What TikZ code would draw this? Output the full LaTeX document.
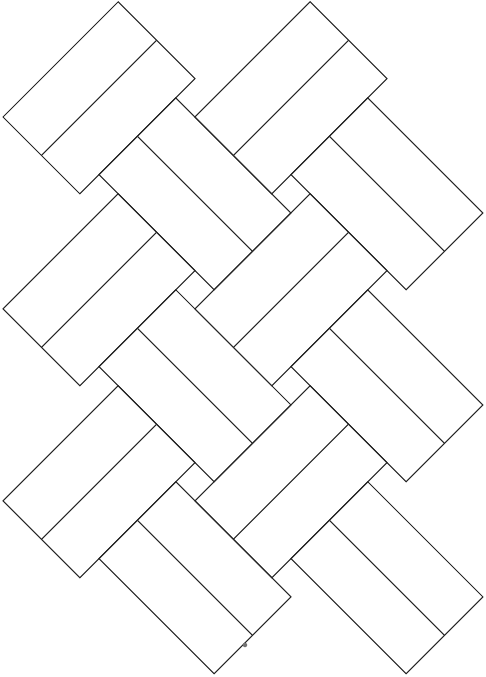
\documentclass[tikz,border=0pt]{standalone}
\usepackage{tikz}

\begin{document}
\begin{tikzpicture}

      % Define board parameters
      \def\s{1.086}
      \def\ox{0.06}
      \def\oy{-2.34}

      \useasboundingbox (0,0) rectangle (9.7,-13.54);

      % Draw the boards (two planks per board)
      \begin{scope}[shift={(\ox,\oy)}, rotate=-45, scale=\s, line width=0.6pt, black!85]
        \foreach \i in {0,1} {
          \foreach \j in {0,1,2} {
            \pgfmathsetmacro\bq{2.5*(\i+\j)}
            \pgfmathsetmacro\bp{2.5*(\i-\j)}
            % rising board
            \draw (\bq,\bp) rectangle (\bq+2,\bp+3);
            \draw (\bq+1,\bp) -- (\bq+1,\bp+3);
            % falling board
            \draw (\bq+2,\bp+0.5) rectangle (\bq+5,\bp+2.5);
            \draw (\bq+2,\bp+1.5) -- (\bq+5,\bp+1.5);
          }
        }
      \end{scope}

      \fill[black!55] (4.9,-12.9) circle (0.045);
\end{tikzpicture}
\end{document}
